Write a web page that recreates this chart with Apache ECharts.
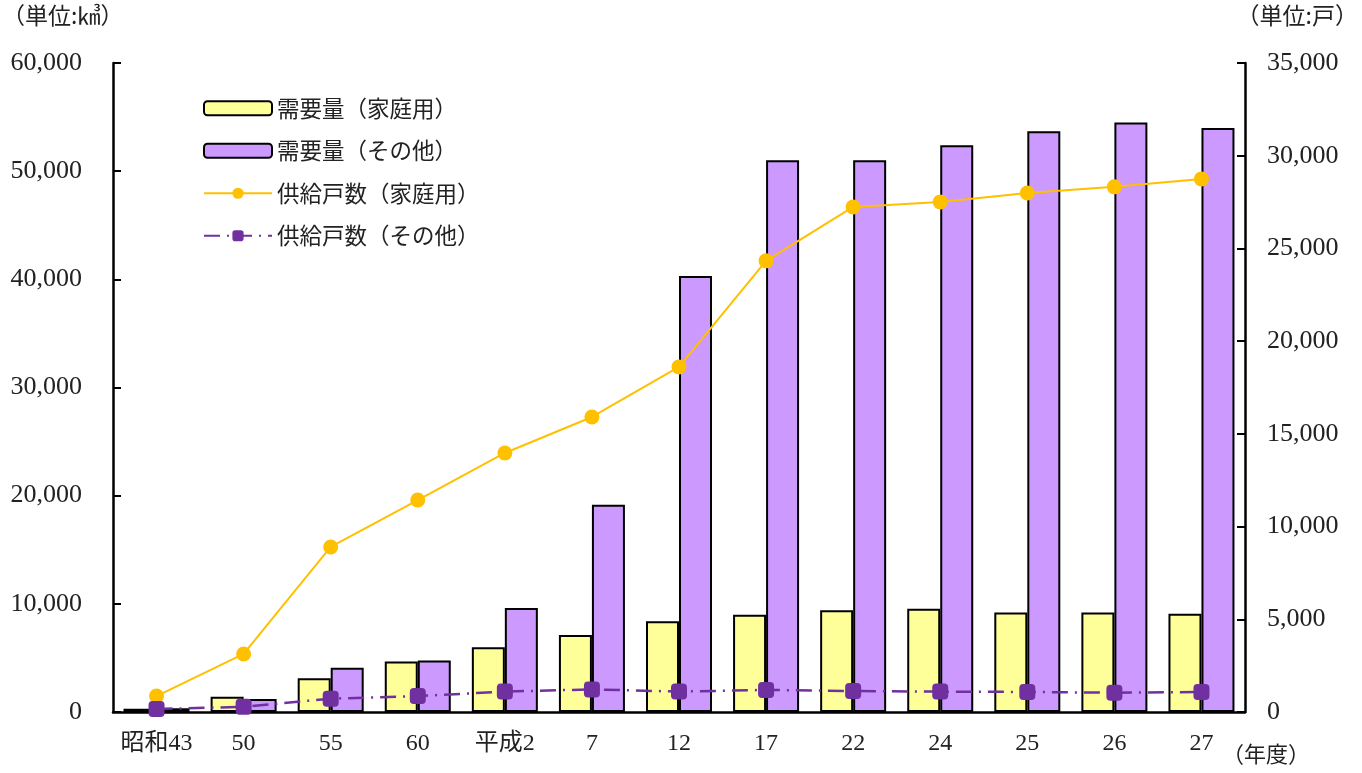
<!DOCTYPE html>
<html><head><meta charset="utf-8">
<script src="https://cdn.jsdelivr.net/npm/echarts@6/dist/echarts.min.js"></script>
<style>html,body{margin:0;padding:0;background:#fff}#c{width:1362px;height:773px}</style>
</head><body><div id="c"></div>
<script>
const categories = ['昭和43','50','55','60','平成2','7','12','17','22','24','25','26','27'];
const demandHome = [300,1410,3110,4680,5980,7120,8380,9000,9400,9550,9210,9210,9090];
const demandOther = [350,1200,4100,4770,9610,19150,40300,51000,51000,52400,53700,54500,54000];
const housesHome = [860,3130,8900,11430,13970,15910,18610,24330,27240,27510,27990,28320,28750];
const housesOther = [160,280,720,860,1100,1220,1100,1190,1130,1100,1080,1040,1080];
const seriesNames = ['需要量（家庭用）','需要量（その他）','供給戸数（家庭用）','供給戸数（その他）'];
const leftTicks = {min:0,max:60000,interval:10000};
const rightTicks = {min:0,max:35000,interval:5000};

const FONT = "'Liberation Serif','Noto Sans CJK JP',serif";
const CJK = "'Noto Sans CJK JP','Liberation Serif',sans-serif";
const chart = echarts.init(document.getElementById('c'));
const fmt = v => v.toLocaleString('en-US');
chart.setOption({
  animation:false,
  textStyle:{fontFamily:FONT,color:'#222'},
  grid:{left:113,right:117,top:63,bottom:61},
  legend:{
    orient:'vertical',left:198,top:92,itemWidth:68,itemHeight:14,itemGap:20,
    textStyle:{fontSize:22.5,fontFamily:CJK,color:'#222'},
    data:seriesNames
  },
  graphic:[
    {type:'text',left:2,top:4,style:{text:'（単位:㎦）',font:"23px "+CJK,fill:'#222'}},
    {type:'text',right:4,top:4,style:{text:'（単位:戸）',font:"23px "+CJK,fill:'#222'}},
    {type:'text',left:1222,top:743,style:{text:'（年度）',font:"22px "+CJK,fill:'#222'}}
  ],
  xAxis:{type:'category',data:categories,
    axisLine:{lineStyle:{color:'#000',width:2.5}},axisTick:{show:false},
    axisLabel:{interval:0,fontSize:24,color:'#222',margin:20,fontFamily:FONT}},
  yAxis:[
    {type:'value',position:'left',min:leftTicks.min,max:leftTicks.max,interval:leftTicks.interval,
     splitLine:{show:false},axisLine:{show:true,lineStyle:{color:'#000',width:2.5}},
     axisTick:{show:true,inside:true,length:8,lineStyle:{color:'#000',width:2}},
     axisLabel:{fontSize:26,color:'#222',margin:31,formatter:fmt,fontFamily:FONT}},
    {type:'value',position:'right',min:rightTicks.min,max:rightTicks.max,interval:rightTicks.interval,
     splitLine:{show:false},axisLine:{show:true,lineStyle:{color:'#000',width:2.5}},
     axisTick:{show:true,inside:true,length:8,lineStyle:{color:'#000',width:2}},
     axisLabel:{fontSize:26,color:'#222',margin:22,formatter:fmt,fontFamily:FONT}}
  ],
  series:[
    {name:seriesNames[0],type:'bar',data:demandHome,barWidth:33,barGap:'0%',
     itemStyle:{color:'#FFFF99',borderColor:'#000',borderWidth:2}},
    {name:seriesNames[1],type:'bar',data:demandOther,barWidth:33,barGap:'0%',
     itemStyle:{color:'#CC99FF',borderColor:'#000',borderWidth:2}},
    {name:seriesNames[2],type:'line',yAxisIndex:1,data:housesHome,z:5,
     symbol:'circle',symbolSize:15,lineStyle:{color:'#FFC000',width:2},itemStyle:{color:'#FFC000'}},
    {name:seriesNames[3],type:'line',yAxisIndex:1,data:housesOther,z:6,
     symbol:'roundRect',symbolSize:16,lineStyle:{color:'#7030A0',width:2.5,type:[16,7,2,7]},itemStyle:{color:'#7030A0'}}
  ]
});
</script></body></html>
